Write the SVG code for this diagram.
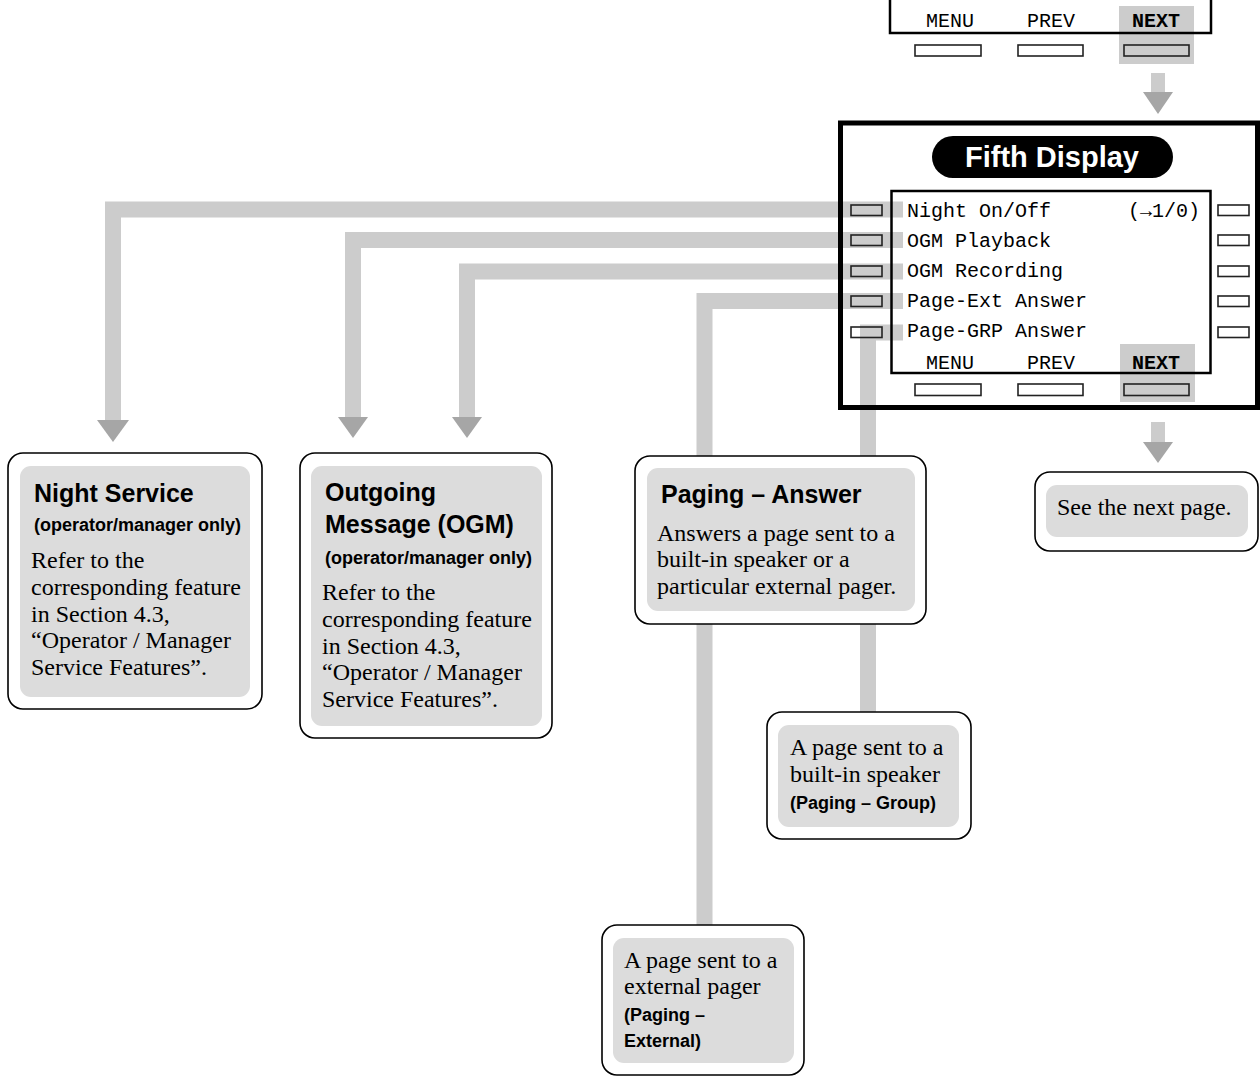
<svg xmlns="http://www.w3.org/2000/svg" width="1260" height="1076" viewBox="0 0 1260 1076">
<style>
.band{fill:none;stroke:#cccccc;stroke-width:16;stroke-linejoin:miter}
.head{fill:#a6a6a6}
.stem{fill:#cccccc}
.hl{fill:#cccccc}
.box{fill:#ffffff;stroke:#000;stroke-width:1.6}
.inner{fill:#dcdcdc}
.btn{fill:none;stroke:#222;stroke-width:1.6}
.btnw{fill:#fff;stroke:#222;stroke-width:1.6}
.title{font-family:"Liberation Sans",Arial,sans-serif;font-weight:bold;font-size:25px;fill:#000}
.sub{font-family:"Liberation Sans",Arial,sans-serif;font-weight:bold;font-size:18px;fill:#000}
.body{font-family:"Liberation Serif","Times New Roman",serif;font-size:24px;fill:#000}
.mono{font-family:"Courier New","Liberation Mono",monospace;font-size:20px;fill:#000}
.monob{font-family:"Courier New","Liberation Mono",monospace;font-size:20px;font-weight:bold;fill:#000}
</style>

<g id="connectors">
  <path class="band" d="M903,209.5 H113 V421"/>
  <path class="band" d="M903,240 H353 V418"/>
  <path class="band" d="M903,271.5 H467 V418"/>
  <path class="band" d="M903,301 H704.5 V926"/>
  <path class="band" d="M903,332.5 H868 V713"/>
  <polygon class="head" points="97,420 129,420 113,442"/>
  <polygon class="head" points="338,417 368,417 353,438"/>
  <polygon class="head" points="452,417 482,417 467,438"/>
  <rect class="stem" x="1151" y="73" width="14" height="19"/>
  <polygon class="head" points="1143,92 1173,92 1158,114"/>
  <rect class="stem" x="1151" y="422" width="14" height="20"/>
  <polygon class="head" points="1143,442 1173,442 1158,463"/>
</g>

<g id="prev-display">
  <rect class="hl" x="1119" y="6" width="75" height="58"/>
  <path d="M890,0 V33 H1211 V0" fill="none" stroke="#000" stroke-width="2.5"/>
  <text class="mono" x="950" y="27" text-anchor="middle">MENU</text>
  <text class="mono" x="1051" y="27" text-anchor="middle">PREV</text>
  <text class="monob" x="1156" y="27" text-anchor="middle">NEXT</text>
  <rect class="btnw" x="915" y="45" width="66" height="11"/>
  <rect class="btnw" x="1018" y="45" width="65" height="11"/>
  <rect class="btn" x="1124" y="45" width="65" height="11"/>
</g>

<g id="fifth-display">
  <rect class="hl" x="1120" y="344" width="75" height="58"/>
  <rect x="840.5" y="123" width="417" height="284.5" fill="none" stroke="#000" stroke-width="5"/>
  <rect x="932" y="136" width="241" height="42" rx="21" fill="#000"/>
  <text x="1052" y="167" text-anchor="middle" font-family="Liberation Sans, Arial, sans-serif" font-weight="bold" font-size="29" fill="#fff">Fifth Display</text>
  <rect x="891.5" y="191" width="319" height="182" fill="none" stroke="#000" stroke-width="2.5"/>
  <rect class="btn" x="851" y="205" width="31" height="10.5"/>
  <rect class="btn" x="851" y="235" width="31" height="10.5"/>
  <rect class="btn" x="851" y="266" width="31" height="10.5"/>
  <rect class="btn" x="851" y="296" width="31" height="10.5"/>
  <rect class="btn" x="851" y="327" width="31" height="10.5"/>
  <rect class="btnw" x="1218" y="205" width="31" height="10.5"/>
  <rect class="btnw" x="1218" y="235" width="31" height="10.5"/>
  <rect class="btnw" x="1218" y="266" width="31" height="10.5"/>
  <rect class="btnw" x="1218" y="296" width="31" height="10.5"/>
  <rect class="btnw" x="1218" y="327" width="31" height="10.5"/>
  <text class="mono" x="907" y="217">Night On/Off</text>
  <text class="mono" x="1200" y="217" text-anchor="end">(→1/0)</text>
  <text class="mono" x="907" y="247">OGM Playback</text>
  <text class="mono" x="907" y="277">OGM Recording</text>
  <text class="mono" x="907" y="307">Page-Ext Answer</text>
  <text class="mono" x="907" y="337">Page-GRP Answer</text>
  <text class="mono" x="950" y="369" text-anchor="middle">MENU</text>
  <text class="mono" x="1051" y="369" text-anchor="middle">PREV</text>
  <text class="monob" x="1156" y="369" text-anchor="middle">NEXT</text>
  <rect class="btnw" x="915" y="384" width="66" height="11.5"/>
  <rect class="btnw" x="1018" y="384" width="65" height="11.5"/>
  <rect class="btn" x="1124" y="384" width="65" height="11.5"/>
</g>

<g id="night-service">
  <rect class="box" x="8" y="453" width="254" height="256" rx="15"/>
  <rect class="inner" x="20" y="466" width="230" height="231" rx="11"/>
  <text class="title" x="34" y="502">Night Service</text>
  <text class="sub" x="34" y="531">(operator/manager only)</text>
  <text class="body" x="31" y="568">Refer to the</text>
  <text class="body" x="31" y="595">corresponding feature</text>
  <text class="body" x="31" y="622">in Section 4.3,</text>
  <text class="body" x="31" y="648">“Operator / Manager</text>
  <text class="body" x="31" y="675">Service Features”.</text>
</g>

<g id="ogm">
  <rect class="box" x="300" y="453" width="252" height="285" rx="15"/>
  <rect class="inner" x="311" y="466" width="231" height="260" rx="11"/>
  <text class="title" x="325" y="501">Outgoing</text>
  <text class="title" x="325" y="533">Message (OGM)</text>
  <text class="sub" x="325" y="564">(operator/manager only)</text>
  <text class="body" x="322" y="600">Refer to the</text>
  <text class="body" x="322" y="627">corresponding feature</text>
  <text class="body" x="322" y="654">in Section 4.3,</text>
  <text class="body" x="322" y="680">“Operator / Manager</text>
  <text class="body" x="322" y="707">Service Features”.</text>
</g>

<g id="paging-answer">
  <rect class="box" x="635" y="456" width="291" height="168" rx="15"/>
  <rect class="inner" x="647" y="468" width="268" height="143" rx="11"/>
  <text class="title" x="661" y="503">Paging – Answer</text>
  <text class="body" x="657" y="541">Answers a page sent to a</text>
  <text class="body" x="657" y="567">built-in speaker or a</text>
  <text class="body" x="657" y="594">particular external pager.</text>
</g>

<g id="next-page">
  <rect class="box" x="1035" y="472" width="223" height="79" rx="15"/>
  <rect class="inner" x="1046" y="485" width="202" height="52" rx="11"/>
  <text class="body" x="1057" y="515">See the next page.</text>
</g>

<g id="paging-group">
  <rect class="box" x="767" y="712" width="204" height="127" rx="15"/>
  <rect class="inner" x="778" y="725" width="181" height="102" rx="11"/>
  <text class="body" x="790" y="755">A page sent to a</text>
  <text class="body" x="790" y="782">built-in speaker</text>
  <text class="sub" x="790" y="809">(Paging – Group)</text>
</g>

<g id="paging-external">
  <rect class="box" x="602" y="925" width="202" height="150" rx="15"/>
  <rect class="inner" x="613" y="938" width="181" height="125" rx="11"/>
  <text class="body" x="624" y="968">A page sent to a</text>
  <text class="body" x="624" y="994">external pager</text>
  <text class="sub" x="624" y="1021">(Paging –</text>
  <text class="sub" x="624" y="1047">External)</text>
</g>
</svg>
